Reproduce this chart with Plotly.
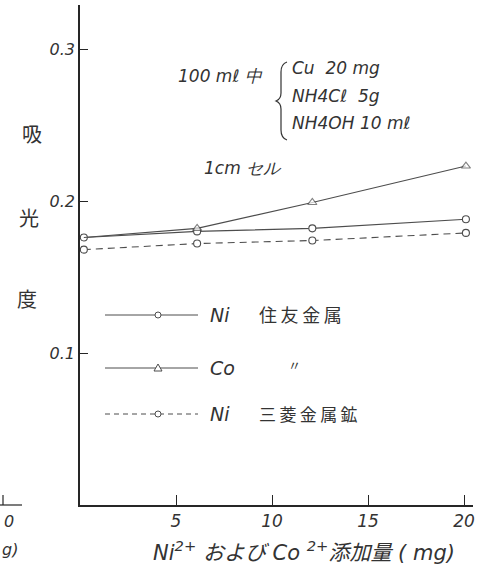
import plotly.graph_objects as go

# ---- data ----
x_ni_sumitomo = [0.2, 6.1, 12.1, 20.1]
y_ni_sumitomo = [0.176, 0.180, 0.182, 0.188]
x_co = [0.2, 6.1, 12.1, 20.1]
y_co = [0.176, 0.182, 0.199, 0.223]
x_ni_mitsubishi = [0.2, 6.1, 12.1, 20.1]
y_ni_mitsubishi = [0.168, 0.172, 0.174, 0.179]

x_tickvals = [5, 10, 15, 20]
x_ticktext = ["5", "10", "15", "20"]
y_tickvals = [0.1, 0.2, 0.3]
y_ticktext = ["0.1", "0.2", "0.3"]

legend_names = ["Ni", "Co", "Ni"]
legend_makers = ["住\u2009友\u2009金\u2009属", "〃", "三\u2009菱\u2009金\u2009属\u2009鉱"]

# ---- layout geometry (pixels) ----
W, H = 480, 568
PL, PT, PW, PH = 80, 5, 393, 500


def px(x):
    return (x - PL) / PW


def py(y):
    return (PT + PH - y) / PH


LINE = "#4d4d4d"
AX = "#262626"
TXT = "#333333"
LAT = "DejaVu Sans"
CJK = "Noto Sans CJK JP"

fig = go.Figure()

fig.add_trace(go.Scatter(
    x=x_ni_sumitomo, y=y_ni_sumitomo, mode="lines+markers",
    line=dict(color=LINE, width=1.1),
    marker=dict(symbol="circle", size=7, color="white", line=dict(color=LINE, width=1.1)),
    showlegend=False))
fig.add_trace(go.Scatter(
    x=x_co, y=y_co, mode="lines+markers",
    line=dict(color=LINE, width=1.1),
    marker=dict(symbol="triangle-up", size=[0, 8, 8, 8], color="white", line=dict(color=LINE, width=1.1)),
    showlegend=False))
fig.add_trace(go.Scatter(
    x=x_ni_mitsubishi, y=y_ni_mitsubishi, mode="lines+markers",
    line=dict(color=LINE, width=1.1, dash="7px,5px"),
    marker=dict(symbol="circle", size=7, color="white", line=dict(color=LINE, width=1.1)),
    showlegend=False))

shapes = []
annotations = []


def note(text, x, y, size=14, anchor="left", fam=LAT, style="italic"):
    annotations.append(dict(text=text, x=px(x), y=py(y), xref="paper", yref="paper",
                            xanchor=anchor, yanchor="middle", showarrow=False,
                            font=dict(family=fam, size=size, color=TXT, style=style)))


# ---- hand-drawn style legend ----
rows = [315, 368, 414]
dashes = ["solid", "solid", "5px,4px"]
for i, yy in enumerate(rows):
    shapes.append(dict(type="line", xref="paper", yref="paper",
                       x0=px(105), x1=px(198), y0=py(yy), y1=py(yy),
                       line=dict(color=LINE, width=1, dash=dashes[i])))
    if i == 1:
        cx, s = 158, 4
        path = "M {},{} L {},{} L {},{} Z".format(px(cx - s), py(yy + 3), px(cx + s), py(yy + 3), px(cx), py(yy - 4))
        shapes.append(dict(type="path", xref="paper", yref="paper", path=path,
                           fillcolor="white", line=dict(color=LINE, width=1)))
    else:
        shapes.append(dict(type="circle", xref="paper", yref="paper",
                           x0=px(155), x1=px(161), y0=py(yy + 3), y1=py(yy - 3),
                           fillcolor="white", line=dict(color=LINE, width=1)))
    note(legend_names[i], 208, yy, 19)
    if i == 1:
        note(legend_makers[i], 294, yy - 4, 13, "center", CJK, "normal")
    elif i == 0:
        note(legend_makers[i], 257, yy - 1, 18, "left", CJK, "normal")
    else:
        note(legend_makers[i], 257, yy - 1, 17, "left", CJK, "normal")

# ---- condition note ----
note("100 mℓ 中", 176, 76, 17)
brace = ("M {},{} Q {},{} {},{} L {},{} Q {},{} {},{} Q {},{} {},{} L {},{} Q {},{} {},{}").format(
    px(287), py(62), px(281), py(64), px(281), py(72),
    px(281), py(93),
    px(281), py(99), px(276), py(101),
    px(281), py(103), px(281), py(109),
    px(281), py(130),
    px(281), py(138), px(287), py(140))
shapes.append(dict(type="path", xref="paper", yref="paper", path=brace,
                   line=dict(color=TXT, width=1.2)))
note("Cu  20 mg", 290, 68, 17)
note("NH4Cℓ  5g", 290, 96, 17)
note("NH4OH 10 mℓ", 290, 123, 17)
note("1cm セル", 202, 168, 17)

# ---- y title (vertical characters) ----
for ch, xx, yy in [("吸", 32, 133), ("光", 29, 217), ("度", 27, 298)]:
    note(ch, xx, yy, 20, "center", CJK, "normal")

# ---- x title ----
note("Ni<sup>2+</sup> および Co <sup>2+</sup>添加量 ( mg)", 304, 551, 21, "center",
     LAT + ", " + CJK, "italic")

# ---- remnants of neighbouring figure at left edge ----
note("0", 9, 521, 16, "center")
note("g)", 0, 549, 16, "left")
shapes.append(dict(type="line", xref="paper", yref="paper", x0=px(0), x1=px(22), y0=py(505), y1=py(505),
                   line=dict(color=AX, width=1.2)))
shapes.append(dict(type="line", xref="paper", yref="paper", x0=px(3), x1=px(3), y0=py(505), y1=py(495),
                   line=dict(color=AX, width=1.2)))

fig.update_layout(
    width=W, height=H,
    margin=dict(l=PL, r=W - PL - PW, t=PT, b=H - PT - PH),
    paper_bgcolor="white", plot_bgcolor="white",
    shapes=shapes, annotations=annotations,
    xaxis=dict(range=[0, PW / 19.2], showline=True, linecolor=AX, linewidth=1.5,
               showgrid=False, zeroline=False, ticks="inside", ticklen=10, tickcolor=AX, tickwidth=1.3,
               tickvals=x_tickvals, ticktext=x_ticktext,
               tickfont=dict(family=LAT, size=17, color=TXT, style="italic")),
    yaxis=dict(range=[0, PH / 1520], showline=True, linecolor=AX, linewidth=1.5,
               showgrid=False, zeroline=False, ticks="inside", ticklen=8, tickcolor=AX, tickwidth=1.3,
               tickvals=y_tickvals, ticktext=y_ticktext,
               tickfont=dict(family=LAT, size=16, color=TXT, style="italic")),
)

fig.write_html("out.html", post_script="document.body.style.margin='0';",
               config={"displayModeBar": False})
